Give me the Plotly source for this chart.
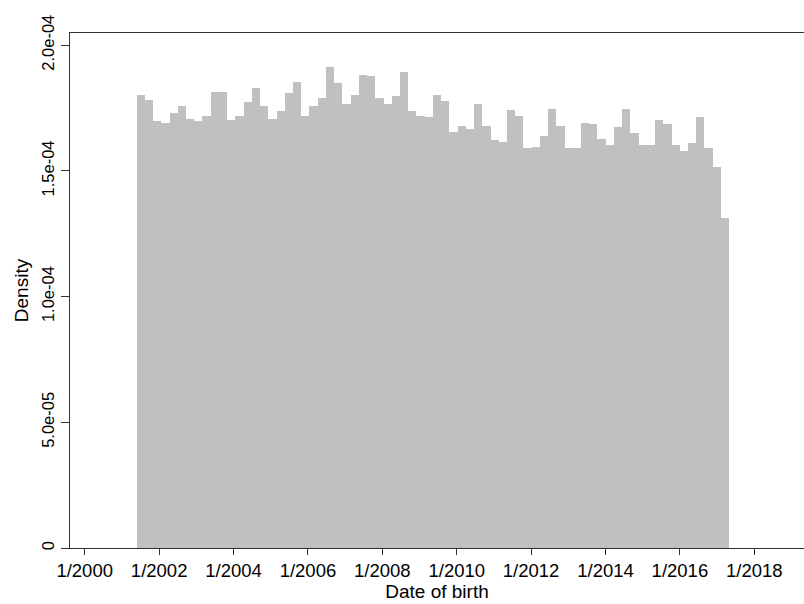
import numpy as np
import pandas as pd
import plotly.graph_objects as go

# Histogram of date of birth (density per day), 72 bins
bin_start = "2001-05-25"
bin_width_days = 80.8
density_e4 = [
    1.801, 1.784, 1.698, 1.691, 1.732, 1.760, 1.708, 1.698, 1.720, 1.813,
    1.813, 1.702, 1.720, 1.773, 1.830, 1.760, 1.708, 1.738, 1.808, 1.854,
    1.718, 1.760, 1.789, 1.913, 1.849, 1.768, 1.801, 1.883, 1.877, 1.789,
    1.768, 1.796, 1.894, 1.738, 1.720, 1.715, 1.801, 1.777, 1.656, 1.678,
    1.667, 1.767, 1.678, 1.621, 1.616, 1.743, 1.719, 1.590, 1.596, 1.638,
    1.748, 1.678, 1.590, 1.590, 1.690, 1.685, 1.626, 1.604, 1.673, 1.748,
    1.650, 1.604, 1.604, 1.702, 1.685, 1.604, 1.580, 1.609, 1.714, 1.592,
    1.516, 1.311,
]
density = [v * 1e-4 for v in density_e4]

x_tick_dates = ["2000-01-01", "2002-01-01", "2004-01-01", "2006-01-01", "2008-01-01",
                "2010-01-01", "2012-01-01", "2014-01-01", "2016-01-01", "2018-01-01"]
x_tick_text = ["1/2000", "1/2002", "1/2004", "1/2006", "1/2008",
               "1/2010", "1/2012", "1/2014", "1/2016", "1/2018"]
y_tick_vals = [0, 5e-5, 1e-4, 1.5e-4, 2e-4]
y_tick_text = ["0", "5.0e-05", "1.0e-04", "1.5e-04", "2.0e-04"]

n = len(density)
start = pd.Timestamp(bin_start)
centers = start + pd.to_timedelta((np.arange(n) + 0.5) * bin_width_days, unit="D")
width_ms = bin_width_days * 86400000

fig = go.Figure(go.Bar(
    x=centers, y=density, width=[width_ms] * n,
    marker=dict(color="#c0c0c0", line=dict(width=0)),
    hoverinfo="skip",
))

origin = pd.Timestamp("2000-01-01")
x_left = origin + pd.Timedelta(days=-144.3)
x_right = origin + pd.Timedelta(days=7062.5)

font = "Liberation Sans, Arial, sans-serif"
fig.update_layout(
    width=804, height=604,
    margin=dict(l=70, r=0, t=33, b=56),
    paper_bgcolor="white", plot_bgcolor="white",
    bargap=0, showlegend=False,
    font=dict(family=font, size=16, color="black"),
    xaxis=dict(
        type="date", range=[x_left, x_right], automargin=False,
        tickvals=x_tick_dates, ticktext=x_tick_text,
        ticks="outside", ticklen=6, tickwidth=1, tickcolor="#333",
        showline=True, linecolor="#333", linewidth=1.2, mirror=True,
        showgrid=False, zeroline=False,
        tickfont=dict(size=18.5),
        title=dict(text="Date of birth", font=dict(size=19), standoff=3),
    ),
    yaxis=dict(
        range=[0, 2.0485e-4], automargin=False,
        tickvals=y_tick_vals, ticktext=y_tick_text,
        tickangle=-90,
        ticks="outside", ticklen=8, tickwidth=1, tickcolor="#333",
        showline=True, linecolor="#333", linewidth=1.2,
        showgrid=False, zeroline=False,
        tickfont=dict(size=16.5),
        title=dict(text="Density", font=dict(size=19), standoff=5),
    ),
)

fig.write_html(
    "out.html",
    config={"displayModeBar": False, "staticPlot": True},
    post_script="document.body.style.margin='0';document.body.style.overflow='hidden';",
)
